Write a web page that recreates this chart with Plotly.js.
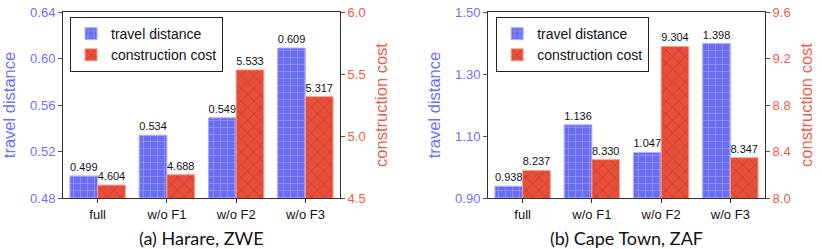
<!DOCTYPE html>
<html>
<head>
<meta charset="utf-8">
<script src="https://cdn.plot.ly/plotly-3.0.1.min.js"></script>
<style>html,body{margin:0;padding:0;background:#fff;}#chart{width:822px;height:249px;}</style>
</head>
<body>
<div id="chart"></div>
<script>
const categories = ["full", "w/o F1", "w/o F2", "w/o F3"];
const harareDistance = [0.499, 0.534, 0.549, 0.609];
const harareCost = [4.604, 4.688, 5.533, 5.317];
const capeDistance = [0.938, 1.136, 1.047, 1.398];
const capeCost = [8.237, 8.330, 9.304, 8.347];
const captions = ["(a) Harare, ZWE", "(b) Cape Town, ZAF"];

const BLUE = '#6a6cf2', BLUE_TXT = '#6e6eff', RED = '#e84f3a', RED_TXT = '#f25a45';
const txtFont = {family: 'Liberation Sans, Arial, sans-serif', size: 11, color: '#111'};

function distTrace(y, xa, ya, leg, show) {
  return {type: 'bar', x: categories, y: y, xaxis: xa, yaxis: ya, name: 'travel distance',
    legend: leg, showlegend: show, width: 0.4, offset: -0.4,
    marker: {color: BLUE, line: {color: '#aeb0ff', width: 1},
      pattern: {shape: '+', fillmode: 'replace', bgcolor: BLUE, fgcolor: 'rgba(255,255,255,0.5)', size: 7, solidity: 0.12}},
    texttemplate: '%{y:.3f}', textposition: 'outside', cliponaxis: false, constraintext: 'none',
    textfont: txtFont, hoverinfo: 'none'};
}
function costTrace(y, xa, ya, leg, show) {
  return {type: 'bar', x: categories, y: y, xaxis: xa, yaxis: ya, name: 'construction cost',
    legend: leg, showlegend: show, width: 0.4, offset: 0,
    marker: {color: RED, line: {color: '#f7a090', width: 1},
      pattern: {shape: 'x', fillmode: 'replace', bgcolor: RED, fgcolor: 'rgba(90,20,15,0.5)', size: 9, solidity: 0.1}},
    texttemplate: '%{y:.3f}', textposition: 'outside', cliponaxis: false, constraintext: 'none',
    textfont: txtFont, hoverinfo: 'none'};
}

const data = [
  distTrace(harareDistance, 'x', 'y', 'legend', true),
  costTrace(harareCost, 'x', 'y2', 'legend', true),
  distTrace(capeDistance, 'x2', 'y3', 'legend2', true),
  costTrace(capeCost, 'x2', 'y4', 'legend2', true)
];

const tickFont = {family: 'Liberation Sans, Arial, sans-serif', size: 13};
function xAxis(domain, anchor) {
  return {domain: domain, anchor: anchor, showline: true, linecolor: '#333', linewidth: 1, mirror: true,
    ticks: 'outside', ticklen: 4, tickcolor: '#333', tickfont: Object.assign({color: '#111'}, tickFont),
    showgrid: false, zeroline: false, fixedrange: true};
}
function leftAxis(range, dtick, fmt, anchor) {
  return {range: range, dtick: dtick, tick0: range[0], tickformat: fmt, anchor: anchor,
    showline: true, linecolor: '#333', linewidth: 1, ticks: 'outside', ticklen: 4, tickcolor: '#555',
    tickfont: Object.assign({color: BLUE_TXT}, tickFont), showgrid: false, zeroline: false,
    title: {text: 'travel distance', font: {family: 'Liberation Sans, Arial, sans-serif', size: 16.5, color: BLUE_TXT}, standoff: 10}};
}
function rightAxis(range, dtick, fmt, anchor, over) {
  return {range: range, dtick: dtick, tick0: range[0], tickformat: fmt, anchor: anchor, overlaying: over, side: 'right',
    showline: true, linecolor: '#333', linewidth: 1, ticks: 'outside', ticklen: 4, tickcolor: '#555',
    tickfont: Object.assign({color: RED_TXT}, tickFont), showgrid: false, zeroline: false,
    title: {text: 'construction cost', font: {family: 'Liberation Sans, Arial, sans-serif', size: 16.5, color: RED_TXT}, standoff: 10}};
}
const legStyle = {bgcolor: 'rgba(255,255,255,0.9)', bordercolor: '#222', borderwidth: 1,
  font: {family: 'Liberation Sans, Arial, sans-serif', size: 14, color: '#111'},
  xanchor: 'left', yanchor: 'top', y: 0.973, tracegroupgap: 0, itemwidth: 30};

const layout = {
  width: 822, height: 249, margin: {l: 63, r: 57, t: 12, b: 51},
  paper_bgcolor: '#fff', plot_bgcolor: '#fff', showlegend: true,
  xaxis: xAxis([0, 0.3946], 'y'),
  xaxis2: xAxis([0.6054, 1], 'y3'),
  yaxis: leftAxis([0.48, 0.64], 0.04, '.2f', 'x'),
  yaxis2: rightAxis([4.5, 6.0], 0.5, '.1f', 'x', 'y'),
  yaxis3: leftAxis([0.90, 1.50], 0.2, '.2f', 'x2'),
  yaxis4: rightAxis([8.0, 9.6], 0.4, '.1f', 'x2', 'y3'),
  legend: Object.assign({x: 0.01}, legStyle),
  legend2: Object.assign({x: 0.617}, legStyle),
  annotations: [
    {text: captions[0], xref: 'paper', yref: 'paper', x: 0.1973, y: -0.215, xanchor: 'center', yanchor: 'middle', showarrow: false,
     font: {family: 'Lato, Open Sans, sans-serif', size: 18, color: '#111'}},
    {text: captions[1], xref: 'paper', yref: 'paper', x: 0.8027, y: -0.215, xanchor: 'center', yanchor: 'middle', showarrow: false,
     font: {family: 'Lato, Open Sans, sans-serif', size: 18, color: '#111'}}
  ]
};
Plotly.newPlot('chart', data, layout, {staticPlot: true, displayModeBar: false});
</script>
</body>
</html>
